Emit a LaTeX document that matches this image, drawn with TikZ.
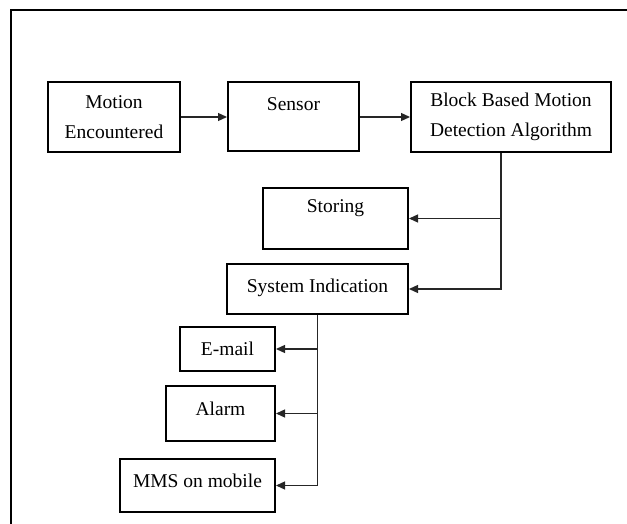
\documentclass[tikz,border=0pt]{standalone}
\usepackage{fontspec}
\setmainfont{Liberation Serif}
\usetikzlibrary{arrows.meta}
\begin{document}
\begin{tikzpicture}[x=1pt, y=-1pt,
  blk/.style={draw, line width=2pt, inner sep=0pt, align=center, font=\fontsize{19.5}{30}\selectfont},
  tpos/.style={text height=14pt, text depth=#1},
  lnk/.style={line width=1.3pt, black!85, -{Triangle[length=9pt,width=8pt]}}]
\useasboundingbox (0,0) rectangle (627,524);
\draw[line width=2.5pt] (11,524) -- (11,10) -- (627,10);
\node[blk, minimum width=132pt, minimum height=70pt] (blk0) at (114,117){Motion\\Encountered};
\node[blk, minimum width=131pt, minimum height=69pt, tpos=27pt] (blk1) at (293.5,117){Sensor};
\draw[lnk](blk0.east) -- (blk1.west);
\node[blk, minimum width=200pt, minimum height=70pt] (blk2) at (511,117){Block Based Motion\\Detection Algorithm};
\draw[lnk](blk1.east) -- (blk2.west);
\node[blk, minimum width=145pt, minimum height=61pt, tpos=25pt] (blk3) at (335.5,218.5){Storing};
\node[blk, minimum width=181pt, minimum height=50pt, tpos=8pt] (blk4) at (317.5,289){System Indication};
\draw[lnk]([xshift=-10pt]blk2.south) |- (blk3.east);
\draw[lnk]([xshift=-10pt]blk2.south) |- (blk4.east);
\node[blk, minimum width=95pt, minimum height=44pt, tpos=2pt] (blk5) at (227.5,349){E-mail};
\node[blk, minimum width=109pt, minimum height=55pt, tpos=11pt] (blk6) at (220.5,413.5){Alarm};
\node[blk, minimum width=155pt, minimum height=53pt, tpos=11pt] (blk7) at (197.5,485.5){MMS on mobile};
\draw[lnk](blk4.south) |- (blk5.east);
\draw[lnk](blk4.south) |- (blk6.east);
\draw[lnk](blk4.south) |- (blk7.east);
\end{tikzpicture}
\end{document}
